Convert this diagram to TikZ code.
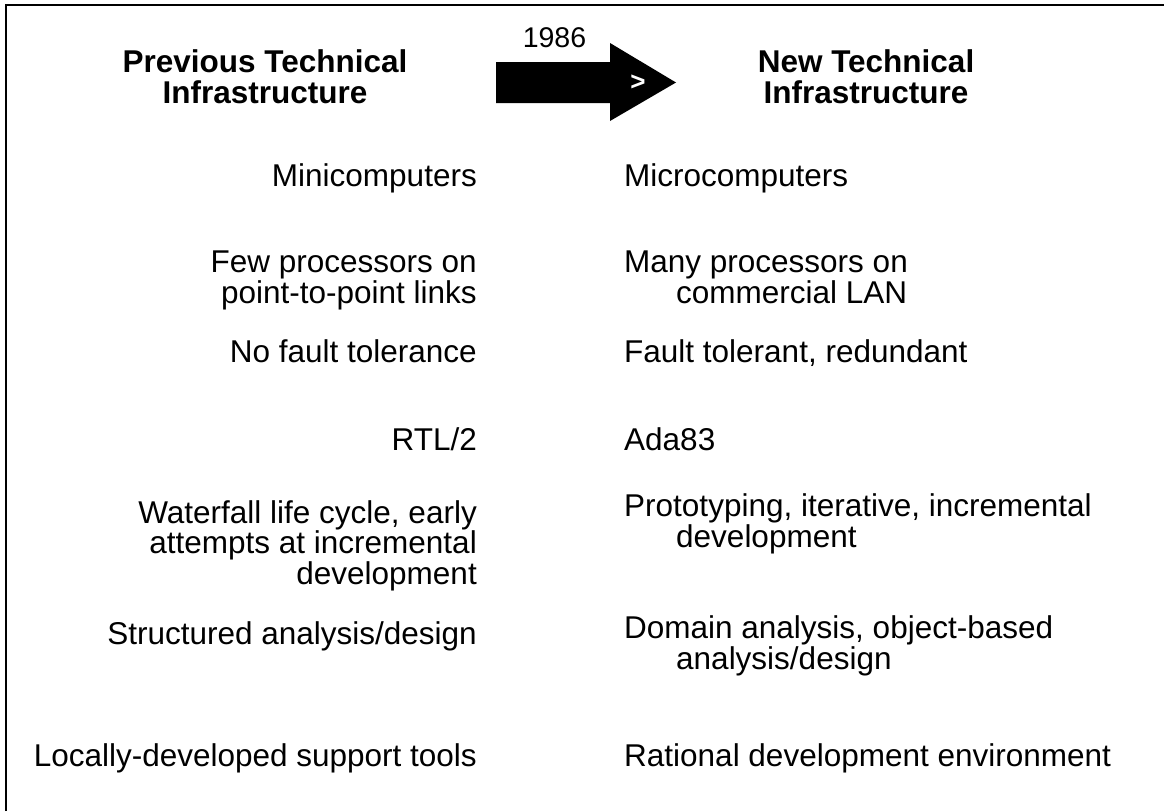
\documentclass[tikz,border=0pt]{standalone}
\usepackage{fontspec}
\setmainfont{Liberation Sans}
\begin{document}
\begin{tikzpicture}[x=1pt,y=-1pt,
  item/.style={inner sep=0pt, font=\fontsize{31.5}{28}\selectfont},
  litem/.style={item, anchor=base east, align=right},
  ritem/.style={item, anchor=base west, align=left},
  head/.style={inner sep=0pt, anchor=base, align=center, font=\fontsize{31.5}{31}\selectfont\bfseries}]
\useasboundingbox (0,0) rectangle (1164,811);
% frame (top and left edges)
\draw[line width=1.8pt] (6,811) -- (6,5) -- (1164,5);
% headers (base anchor = baseline of last line)
\node[head] (hl) at (265,103) {Previous Technical\\Infrastructure};
\node[head] (hr) at (866,103) {New Technical\\Infrastructure};
% big arrow
\fill[black] (496,62) -- (610,62) -- (610,43) -- (676,82.5) -- (610,121) -- (610,103) -- (496,103) -- cycle;
\node[inner sep=0pt, text=white, font=\fontsize{26}{26}\selectfont\bfseries] (gt) at (638,82.5) {>};
\node[inner sep=0pt, anchor=base, font=\fontsize{28.5}{28.5}\selectfont] (yr) at (554.5,47) {1986};
% left column
\node[litem] (l1) at (477,186) {Minicomputers};
\node[litem] (l2) at (477,303) {Few processors on\\point-to-point links};
\node[litem] (l3) at (477,362) {No fault tolerance};
\node[litem] (l4) at (477,450) {RTL/2};
\node[litem] (l5) at (477,584) {Waterfall life cycle, early\\attempts at incremental\\development};
\node[litem] (l6) at (477,644) {Structured analysis/design};
\node[litem] (l7) at (477,766) {Locally-developed support tools};
% right column
\node[ritem] (r1) at (624,186) {Microcomputers};
\node[ritem] (r2) at (624,303) {Many processors on\\\hspace*{52pt}commercial LAN};
\node[ritem] (r3) at (624,362) {Fault tolerant, redundant};
\node[ritem] (r4) at (624,450) {Ada83};
\node[ritem] (r5) at (624,547) {Prototyping, iterative, incremental\\\hspace*{52pt}development};
\node[ritem] (r6) at (624,669) {Domain analysis, object-based\\\hspace*{52pt}analysis/design};
\node[ritem] (r7) at (624,766) {Rational development environment};
\end{tikzpicture}
\end{document}
